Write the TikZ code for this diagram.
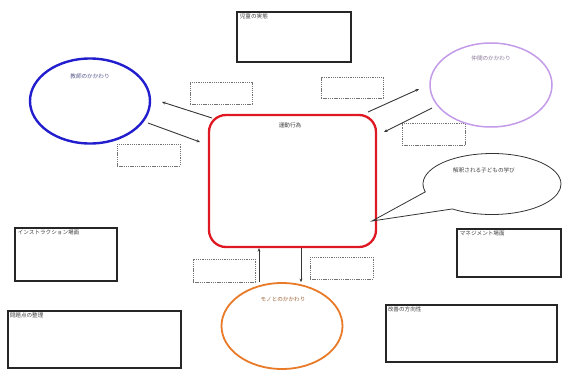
\documentclass[tikz,border=0pt]{standalone}
\usepackage{fontspec}
\newfontfamily\jpfont{Noto Sans CJK JP}
\usetikzlibrary{shapes.geometric,shapes.callouts,arrows.meta}
\definecolor{teacherblue}{RGB}{35,30,205}
\definecolor{peerpurple}{RGB}{195,155,232}
\definecolor{actred}{RGB}{222,25,35}
\definecolor{thingorange}{RGB}{232,122,40}
\definecolor{linkgray}{RGB}{55,55,55}
\tikzset{
  lbl/.style={font=\jpfont\fontsize{5.6}{6.5}\selectfont, text=black!75, inner sep=0.5pt},
  panel/.style={draw=black!85, line width=1.7pt, inner sep=0pt},
  memo/.style={draw=black!55, dashed, dash pattern=on 1.3pt off 0.9pt, line width=0.7pt, inner sep=0pt},
  actor/.style={ellipse, inner sep=0pt},
  link/.style={draw=linkgray, line width=0.9pt, -{Stealth[length=3.5pt,width=3pt]}},
}
\begin{document}
\begin{tikzpicture}[x=1pt,y=-1pt]
\useasboundingbox (0,0) rectangle (566,370);

% central activity box
\node[draw=actred, line width=2.3pt, rounded corners=17pt, minimum width=167pt, minimum height=132pt] (act) at (292.5,181) {};
\node[lbl, anchor=north] (actT) at (290,122) {運動行為};

% actors around it
\node[actor, draw=teacherblue, line width=2.4pt, minimum width=120pt, minimum height=85pt] (teach) at (90,101) {};
\node[lbl, anchor=north, text=teacherblue!45!black!70] (teachT) at (90,73) {教師のかかわり};
\node[actor, draw=peerpurple, line width=1.5pt, minimum width=122pt, minimum height=84pt] (peer) at (491,85) {};
\node[lbl, anchor=north, text=peerpurple!55!black!80] (peerT) at (491,55) {仲間のかかわり};
\node[actor, draw=thingorange, line width=1.8pt, minimum width=121pt, minimum height=86pt] (thing) at (282,326) {};
\node[lbl, anchor=north, text=thingorange!60!black!85] (thingT) at (283,296) {モノとのかかわり};

% speech bubble pointing into the activity box
\coordinate (tip) at (372,221);
\node[ellipse callout, draw=black!80, line width=0.8pt, minimum width=138pt, minimum height=61pt,
      callout absolute pointer={(tip)}, callout pointer arc=40] (learn) at (492,184) {};
\node[lbl, anchor=north] (learnT) at (484,167) {解釈される子どもの学び};

% solid panels with headings
\node[panel, minimum width=114pt, minimum height=50pt] (state) at (294,37) {};
\node[lbl, anchor=north west] (stateT) at ([shift={(3pt,-2pt)}]state.north west) {児童の実態};
\node[panel, minimum width=102pt, minimum height=53pt] (instr) at (66,254.5) {};
\node[lbl, anchor=north west] (instrT) at ([shift={(3pt,-2pt)}]instr.north west) {インストラクション場面};
\node[panel, minimum width=104pt, minimum height=48pt] (manage) at (509,253) {};
\node[lbl, anchor=north west] (manageT) at ([shift={(3pt,-2pt)}]manage.north west) {マネジメント場面};
\node[panel, minimum width=173pt, minimum height=57pt] (issues) at (94.5,339.5) {};
\node[lbl, anchor=north west] (issuesT) at ([shift={(2pt,-2pt)}]issues.north west) {問題点の整理};
\node[panel, minimum width=171pt, minimum height=57pt] (improve) at (471.5,333.5) {};
\node[lbl, anchor=north west] (improveT) at ([shift={(2pt,-2pt)}]improve.north west) {改善の方向性};

% dashed note boxes beside the connectors
\node[memo, minimum width=62pt, minimum height=22pt] (m1) at (221,93) {};
\node[memo, minimum width=63pt, minimum height=22pt] (m2) at (148.5,155) {};
\node[memo, minimum width=62pt, minimum height=21pt] (m3) at (352,87.5) {};
\node[memo, minimum width=63pt, minimum height=22pt] (m4) at (433.5,134.5) {};
\node[memo, minimum width=62pt, minimum height=23pt] (m5) at (224,270.5) {};
\node[memo, minimum width=63pt, minimum height=22pt] (m6) at (341.5,268) {};

% connectors between the actors and the activity
\coordinate (a1s) at (212,118); \coordinate (a1e) at (162,102);
\coordinate (a2s) at (148,123); \coordinate (a2e) at (200,142);
\coordinate (a3s) at (368,112); \coordinate (a3e) at (419,89);
\coordinate (a4s) at (432,108); \coordinate (a4e) at (384,132);
\path[link] (a1s) -- (a1e);
\path[link] (a2s) -- (a2e);
\path[link] (a3s) -- (a3e);
\path[link] (a4s) -- (a4e);
\path[link] (thing.north -| 259,0) -- (act.south -| 259,0);
\path[link] (act.south -| 301,0) -- (thing.north -| 301,0);
\end{tikzpicture}
\end{document}
